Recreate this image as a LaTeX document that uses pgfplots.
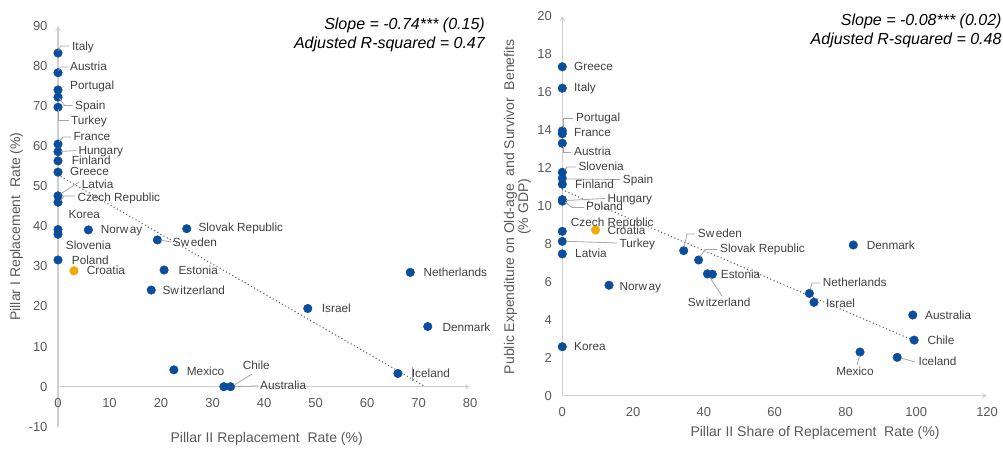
\documentclass[border=0pt]{standalone}
\usepackage{fontspec}
\setmainfont{Liberation Sans}
\usepackage{pgfplots}
\pgfplotsset{compat=1.18}
\definecolor{dotblue}{HTML}{0A4D9C}
\definecolor{dotorange}{HTML}{F2A900}
\definecolor{tickgray}{HTML}{595959}
\definecolor{labgray}{HTML}{404040}
\definecolor{axgray}{HTML}{D0D0D0}
\definecolor{leadgray}{HTML}{A6A6A6}
\definecolor{trendgray}{HTML}{606060}
\pgfplotsset{
  myax/.style={
    anchor=origin, clip=false,
    /pgf/number format/assume math mode=true,
    major tick length=0pt,
    axis line style={draw=axgray, line width=1.3pt, -},
    every inner x axis line/.append style={-},
    every outer x axis line/.append style={-},
    every inner y axis line/.append style={-},
    every outer y axis line/.append style={-},
    hide obscured x ticks=false, hide obscured y ticks=false,
    tick label style={font=\fontsize{13}{13}\selectfont, text=tickgray},
    xticklabel style={yshift=-8pt},
    yticklabel style={xshift=-7pt},
  },
  pts/.style={only marks, mark=*, mark size=4.3pt, mark options={draw=dotblue, fill=dotblue}},
  opts/.style={only marks, mark=*, mark size=4.3pt, mark options={draw=dotorange, fill=dotorange}},
  trend/.style={no marks, draw=trendgray, line width=1.5pt, line cap=round, dash pattern=on 0pt off 3.6pt},
}
\begin{document}
\begin{tikzpicture}
\path[use as bounding box] (0,0) rectangle (1003pt,449pt);
% ---------- left chart ----------
\begin{axis}[myax, at={(58pt,62.3pt)}, x=5.15pt, y=4.01pt,
  xmin=0, xmax=80, ymin=-10, ymax=90,
  axis x line=middle, axis y line=left,
  xtick={0,10,...,80}, ytick={-10,0,...,90}]
\addplot[trend] coordinates {(0,52.8) (71.35,0)};
\addplot[pts] coordinates {
(0,83.2) (0,78.3) (0,74.0) (0,72.2) (0,69.7) (0,60.5) (0,58.6) (0,56.3) (0,53.5)
(0,47.6) (0,46.0) (0,39.2) (0,38.0) (0,31.6)
(5.9,39.1) (25.0,39.4) (19.3,36.6) (20.6,29.1) (18.1,24.1) (22.5,4.2)
(32.2,0) (33.5,0) (48.5,19.5) (68.4,28.5) (71.8,15.0) (66.0,3.3)};
\addplot[opts] coordinates {(3.1,28.9)};
\end{axis}
% ---------- right chart ----------
\begin{axis}[myax, at={(562.3pt,53.3pt)}, x=3.54pt, y=18.98pt,
  xmin=0, xmax=120, ymin=0, ymax=20,
  axis lines=left,
  xtick={0,20,...,120}, ytick={0,2,...,20}]
\addplot[trend] coordinates {(0,10.85) (100,2.85)};
\addplot[pts] coordinates {
(0,17.33) (0,16.2) (0,13.95) (0,13.8) (0,13.3) (0,11.77) (0,11.45) (0,11.14)
(0,10.33) (0,10.25) (0,8.66) (0,8.13) (0,7.47) (0,2.58)
(13.2,5.82) (34.3,7.64) (38.5,7.15) (42.4,6.4) (41.0,6.42) (82.2,7.94)
(69.8,5.39) (71.1,4.92) (99.0,4.25) (99.4,2.93) (84.1,2.3) (94.6,2.02)};
\addplot[opts] coordinates {(9.4,8.73)};
\end{axis}
% ---------- labels (pixel coordinates, y downwards) ----------
\begin{scope}[x=1pt,y=-1pt,yshift=449pt,
  lab/.style={anchor=west, inner sep=0pt, text height=0.72em, text depth=0pt,
    font=\fontsize{11.8}{11.8}\selectfont, text=labgray},
  ld/.style={draw=leadgray, line width=0.8pt}]
% leader lines left
\draw[ld] (58.5,51)--(60.5,46)--(69,46);
\draw[ld] (58.5,71)--(60.5,67)--(68,67);
\draw[ld] (59.5,98)--(64.5,105.5)--(72.5,105.5);
\draw[ld] (58.5,109)--(58.5,120.5)--(68.5,120.5);
\draw[ld] (59,142)--(63,137)--(71,137);
\draw[ld] (61,151.5)--(76,150.5);
\draw[ld] (60.5,194)--(79,182);
\draw[ld] (60.5,201)--(64,196)--(75,196);
\draw[ld] (160.5,240)--(171,242);
\draw[ld] (235,384.5)--(252,374);
\draw[ld] (235,386.5)--(258,386);
\draw[ld] (412.5,367)--(412.5,381);
% labels left
\node[lab] at (72,47.3) {Italy};
\node[lab] at (70,66.7) {Austria};
\node[lab] at (70,86) {Portugal};
\node[lab] at (75,106) {Spain};
\node[lab] at (71,120.7) {Turkey};
\node[lab] at (73.3,136.7) {France};
\node[lab] at (78.3,151) {Hungary};
\node[lab] at (71.7,161) {Finland};
\node[lab] at (70,172) {Greece};
\node[lab] at (81.7,185) {Latvia};
\node[lab] at (77.3,197.7) {Czech Republic};
\node[lab] at (68.3,214.5) {Korea};
\node[lab] at (65.7,245.7) {Slovenia};
\node[lab] at (71.7,260.7) {Poland};
\node[lab] at (86.7,271) {Croatia};
\node[lab] at (100.7,230) {Norw\kern1.5pt ay};
\node[lab] at (198.3,228.3) {Slovak Republic};
\node[lab] at (172.7,242.7) {Sw\kern1.5pt eden};
\node[lab] at (178.3,270.7) {Estonia};
\node[lab] at (162.3,290.7) {Sw\kern1.5pt itzerland};
\node[lab] at (186.7,371.7) {Mexico};
\node[lab] at (242.7,365.7) {Chile};
\node[lab] at (260,385.7) {Australia};
\node[lab] at (321.7,309.3) {Israel};
\node[lab] at (423.3,272.7) {Netherlands};
\node[lab] at (442.3,327.7) {Denmark};
\node[lab] at (411.7,374.3) {Iceland};
% leader lines right
\draw[ld] (563,128)--(563,118)--(573,118);
\draw[ld] (563,146)--(563,152)--(571,152);
\draw[ld] (564.5,170)--(567,167)--(576,167);
\draw[ld] (566,179)--(620,179.5);
\draw[ld] (566,200.5)--(605,198.5);
\draw[ld] (565,202)--(572,207.5)--(584,207.5);
\draw[ld] (566,241.3)--(617,243);
\draw[ld] (684,247.5)--(687,234)--(695,234);
\draw[ld] (700,256.5)--(705,249.5)--(717,249.5);
\draw[ld] (710,277.5)--(722,296);
\draw[ld] (810,289.5)--(812,283)--(820,283);
\draw[ld] (859.5,355.5)--(857,365);
\draw[ld] (901,358)--(915,362);
% labels right
\node[lab] at (574,66.7) {Greece};
\node[lab] at (574,88.3) {Italy};
\node[lab] at (576,117.7) {Portugal};
\node[lab] at (574,133.3) {France};
\node[lab] at (574,151.7) {Austria};
\node[lab] at (578.3,166.7) {Slovenia};
\node[lab] at (622.7,180) {Spain};
\node[lab] at (575,185) {Finland};
\node[lab] at (607.3,199.3) {Hungary};
\node[lab] at (586,207.3) {Poland};
\node[lab] at (570.7,222.7) {Czech Republic};
\node[lab] at (607.3,230.7) {Croatia};
\node[lab] at (619.3,244) {Turkey};
\node[lab] at (575,254.3) {Latvia};
\node[lab] at (619.3,286.7) {Norw\kern1.5pt ay};
\node[lab] at (574,346.7) {Korea};
\node[lab] at (697.7,234) {Sw\kern1.5pt eden};
\node[lab] at (720,249) {Slovak Republic};
\node[lab] at (720.7,275) {Estonia};
\node[lab] at (687.7,303.3) {Sw\kern1.5pt itzerland};
\node[lab] at (866.7,245.7) {Denmark};
\node[lab] at (822.7,282.7) {Netherlands};
\node[lab] at (826,304) {Israel};
\node[lab] at (925,316) {Australia};
\node[lab] at (927.3,340.7) {Chile};
\node[lab,anchor=center] at (855,372.3) {Mexico};
\node[lab] at (918.3,362.3) {Iceland};
% axis titles
\node[font=\fontsize{14}{14}\selectfont, text=tickgray, inner sep=0pt] at (266.7,439) {Pillar II Replacement\ \ Rate (\%)};
\node[font=\fontsize{14}{14}\selectfont, text=tickgray, inner sep=0pt, rotate=90] at (16.5,226.5) {Pillar I Replacement\ \ Rate (\%)};
\node[font=\fontsize{14}{14}\selectfont, text=tickgray, inner sep=0pt] at (815,433) {Pillar II Share\ of Replacement\ \ Rate (\%)};
\node[font=\fontsize{14}{14}\selectfont, text=tickgray, inner sep=0pt, rotate=90, align=center] at (517.5,206.7) {Public Expenditure on Old-age\ \ and Survivor\ \ Benefits\\(\% GDP)};
% annotations
\node[font=\fontsize{16}{19}\selectfont\itshape, anchor=east, inner sep=0pt, align=right] at (485,35) {Slope = -0.74*** (0.15)\\Adjusted R-squared = 0.47};
\node[font=\fontsize{16}{19}\selectfont\itshape, anchor=east, inner sep=0pt, align=right] at (1001.7,30.4) {Slope = -0.08*** (0.02)\\Adjusted R-squared = 0.48};
\end{scope}
\end{tikzpicture}
\end{document}
